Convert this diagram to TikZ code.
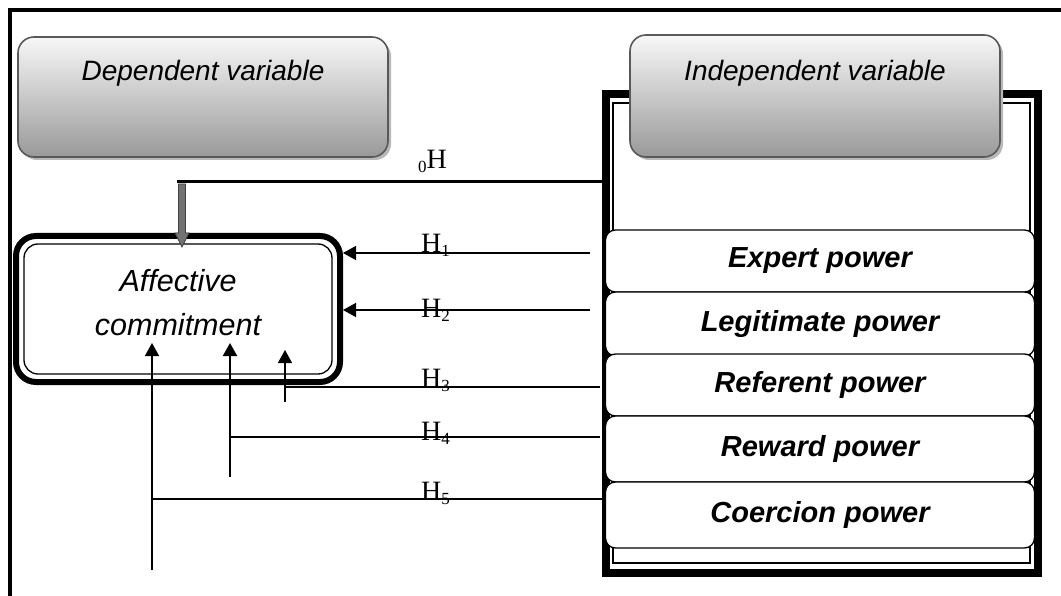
\documentclass[tikz,border=0pt]{standalone}
\usepackage{fontspec}
\setmainfont{Liberation Serif}
\newfontfamily\arialfont{Liberation Sans}
\usetikzlibrary{arrows.meta,calc}
\tikzset{
  gradbox/.style={draw=black!65, line width=1.6pt, rounded corners=16pt,
    top color=white!97!black, bottom color=black!40, minimum width=370pt, minimum height=120pt, inner sep=0pt},
  shadowbox/.style={fill=black!28, rounded corners=16pt},
  powerbox/.style={draw=black, line width=1.3pt, fill=white, rounded corners=10pt,
    minimum width=429pt, inner sep=0pt, font=\arialfont\bfseries\itshape\fontsize{29}{32}\selectfont},
  vartext/.style={font=\arialfont\itshape\fontsize{28}{32}\selectfont},
  hlab/.style={anchor=base west, inner sep=0pt, font=\fontsize{28}{28}\selectfont},
  conn/.style={line width=1.3pt},
  tip/.style={-{Triangle[length=13pt,width=14pt]}},
}
\newcommand{\subdig}[1]{\raisebox{-4pt}{\fontsize{17}{17}\selectfont #1}}
\begin{document}
\begin{tikzpicture}[x=1pt,y=-1pt]
\useasboundingbox (0,0) rectangle (1061,596);
\clip (0,0) rectangle (1061,596);
\fill[white] (0,0) rectangle (1061,596);
% outer frame
\draw[line width=4.5pt] (10,620) -- (10,10) -- (1080,10);

% independent frame
\draw[line width=8pt] (606,94.5) rectangle (1037.5,572.5);
\draw[line width=1.2pt] (613,103) rectangle (1030,563);

% dependent variable box
\fill[shadowbox] (21,40) rectangle (391,160);
\node[gradbox] (dep) at (203,97) {};
\node[vartext] (deptext) at (203,73) {Dependent variable};

% independent variable box
\fill[shadowbox] (633,38) rectangle (1003,160);
\node[gradbox, minimum height=122pt] (indep) at (815,96) {};
\node[vartext] (indeptext) at (815,73) {Independent variable};

% power boxes
\node[powerbox, minimum height=62pt] (expert) at (820,261) {Expert power};
\node[powerbox, minimum height=64pt] (legit) at (820,324) {Legitimate power};
\node[powerbox, minimum height=62pt] (refer) at (820,385) {Referent power};
\node[powerbox, minimum height=66pt] (reward) at (820,449) {Reward power};
\node[powerbox, minimum height=66pt] (coerc) at (820,515) {Coercion power};

% affective commitment
\node[draw, line width=6pt, rounded corners=20pt, minimum width=324pt, minimum height=146pt, inner sep=0pt] (aff) at (178,309) {};
\draw[line width=1.3pt, rounded corners=14pt] (24,244) rectangle (332,374);
\node[font=\arialfont\itshape\fontsize{30.5}{44}\selectfont, align=center] (afftext) at (178,303) {Affective\\commitment};

% coordinates for connectors
\coordinate (h0s) at (602,182);
\coordinate (h0c) at (177,182);
\coordinate (h0a) at (182,184);
\coordinate (h0t) at (182,247);
\coordinate (h1s) at (590,253);
\coordinate (h2s) at (590,310);
\coordinate (h3s) at (600,387);
\coordinate (h3c) at (285,387);
\coordinate (h3b) at (285,402);
\coordinate (h3t) at (285,350);
\coordinate (h4s) at (600,437);
\coordinate (h4c) at (230,437);
\coordinate (h4b) at (230,477);
\coordinate (h4t) at (230,343);
\coordinate (h5s) at (605,499);
\coordinate (h5c) at (152,499);
\coordinate (h5b) at (152,570);
\coordinate (h5t) at (152,343);

% H0
\draw[line width=3pt] (h0s) -- (h0c);
\filldraw[draw=black!75, fill=black!55, line width=0.8pt]
  ($(h0a)+(-3.5,0)$) -- ($(h0a)+(3.5,0)$) -- ($(h0t)+(3.5,-14)$) -- ($(h0t)+(7,-14)$)
  -- (h0t) -- ($(h0t)+(-7,-14)$) -- ($(h0t)+(-3.5,-14)$) -- cycle;

% H1, H2
\draw[conn, tip] (h1s) -- (aff.east |- h1s);
\draw[conn, tip] (h2s) -- (aff.east |- h2s);
% H3
\draw[conn] (h3s) -- (h3c);
\draw[conn, tip] (h3b) -- (h3t);
% H4
\draw[conn] (h4s) -- (h4c);
\draw[line width=2pt, tip] (h4b) -- (h4t);
% H5
\draw[conn] (h5s) -- (h5c);
\draw[line width=1.5pt, tip] (h5b) -- (h5t);

% labels
\node[hlab] (l0) at (418,169) {\subdig{0}H};
\node[hlab] (l1) at (421,253) {H\subdig{1}};
\node[hlab] (l2) at (421,318) {H\subdig{2}};
\node[hlab] (l3) at (421,387) {H\subdig{3}};
\node[hlab] (l4) at (421,440) {H\subdig{4}};
\node[hlab] (l5) at (421,500) {H\subdig{5}};
\end{tikzpicture}
\end{document}
